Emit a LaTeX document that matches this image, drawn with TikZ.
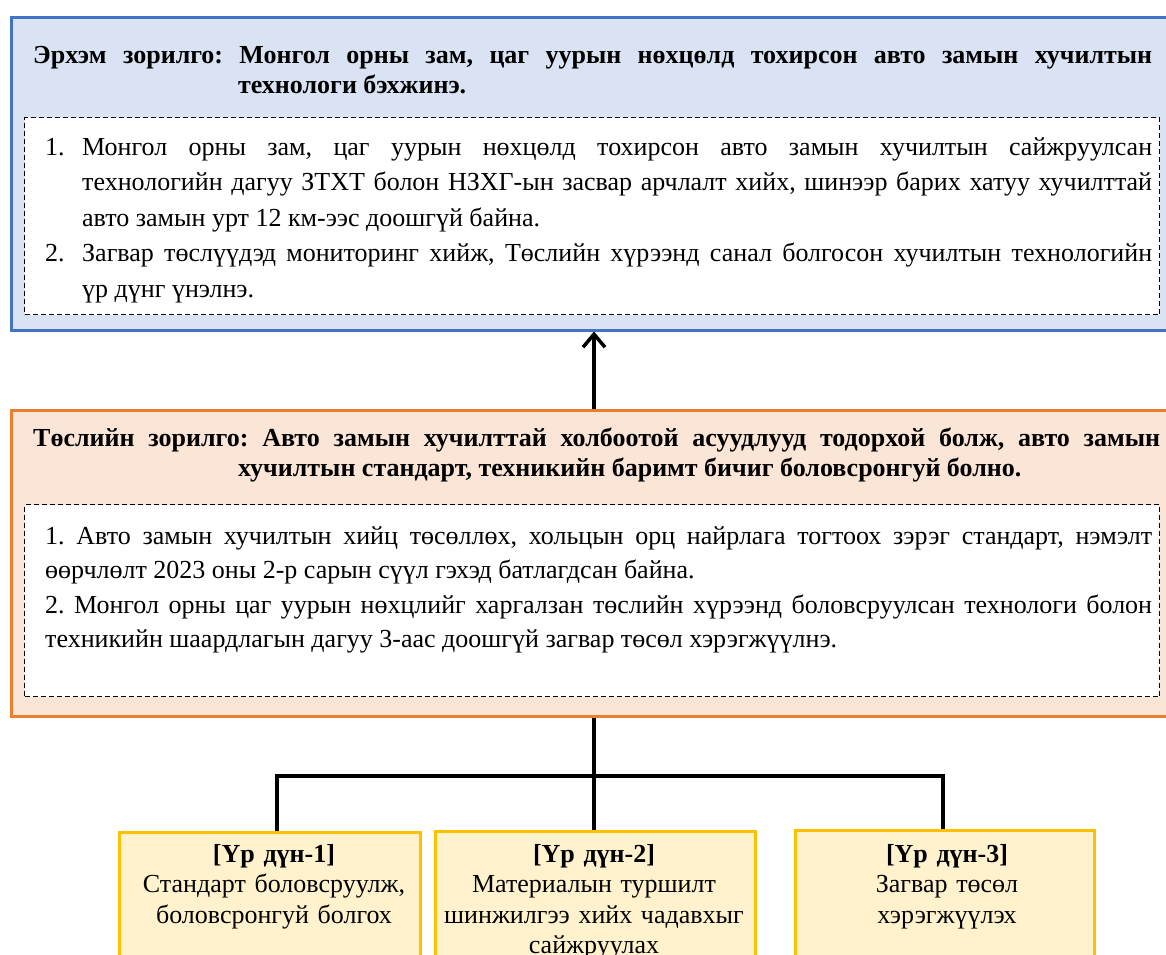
\documentclass[tikz,border=0pt]{standalone}
\usepackage{fontspec}
\setmainfont{Liberation Serif}
\usetikzlibrary{arrows.meta}
\frenchspacing

\definecolor{goalblue}{HTML}{4472C4}
\definecolor{goalfill}{HTML}{DAE3F3}
\definecolor{projorange}{HTML}{ED7D31}
\definecolor{projfill}{HTML}{FBE5D6}
\definecolor{resgold}{HTML}{FFC000}
\definecolor{resfill}{HTML}{FFF2CC}

\tikzset{
  panel/.style={draw, line width=3pt, rectangle, inner sep=0pt, anchor=north west},
  goalpanel/.style={panel, draw=goalblue, fill=goalfill},
  projpanel/.style={panel, draw=projorange, fill=projfill},
  listframe/.style={draw=black, fill=white, line width=1.1pt, dash pattern=on 5pt off 3pt,
    rectangle, inner sep=0pt, anchor=north west},
  headtext/.style={anchor=base west, inner sep=0pt, align=justify,
    font=\bfseries\fontsize{26}{30}\selectfont},
  bodytext/.style={anchor=base west, inner sep=0pt, align=justify,
    font=\fontsize{26}{35.5}\selectfont},
  resultbox/.style={draw=resgold, fill=resfill, line width=3pt, rectangle, inner sep=0pt,
    anchor=north west, minimum height=160pt},
  resulttext/.style={anchor=base, inner sep=0pt, align=center, text width=300pt,
    font=\fontsize{26}{30.5}\selectfont},
  link/.style={draw=black, line width=3.5pt},
}

\begin{document}
\begin{tikzpicture}[x=1pt, y=-1pt]
\useasboundingbox (0,0) rectangle (1166,954);
\clip (0,0) rectangle (1166,954);

% ---------- overall goal ----------
\node[goalpanel, minimum width=1170pt, minimum height=313pt] (goal) at (9.5,15.5) {};
\node[headtext, text width=1119pt] (goalhead) at (33,63)
  {Эрхэм зорилго: Монгол орны зам, цаг уурын нөхцөлд тохирсон авто замын хучилтын\linebreak
   \hspace*{205pt}технологи бэхжинэ.};
\node[listframe, minimum width=1135pt, minimum height=197pt] (goallist) at (24,117) {};
\node[bodytext] (gn1) at (45,155) {1.};
\node[bodytext, text width=1070pt] (gi1) at (82,155)
  {Монгол орны зам, цаг уурын нөхцөлд тохирсон авто замын хучилтын сайжруулсан\linebreak
   технологийн дагуу ЗТХТ болон НЗХГ-ын засвар арчлалт хийх, шинээр барих хатуу хучилттай\linebreak
   авто замын урт 12 км-ээс доошгүй байна.};
\node[bodytext] (gn2) at (45,261.5) {2.};
\node[bodytext, text width=1070pt] (gi2) at (82,261.5)
  {Загвар төслүүдэд мониторинг хийж, Төслийн хүрээнд санал болгосон хучилтын технологийн\linebreak
   үр дүнг үнэлнэ.};

% ---------- project goal ----------
\node[projpanel, minimum width=1170pt, minimum height=306pt] (proj) at (9.5,408.5) {};
\node[headtext, text width=1127pt] (projhead) at (33,446)
  {Төслийн зорилго: Авто замын хучилттай холбоотой асуудлууд тодорхой болж, авто замын\linebreak
   \hspace*{205pt}хучилтын стандарт, техникийн баримт бичиг боловсронгуй болно.};
\node[listframe, minimum width=1135pt, minimum height=192pt] (projlist) at (24,504) {};
\node[bodytext, text width=1107pt, font=\fontsize{26}{34.5}\selectfont] (projitems) at (45,544)
  {1. Авто замын хучилтын хийц төсөллөх, хольцын орц найрлага тогтоох зэрэг стандарт, нэмэлт\linebreak
   өөрчлөлт 2023 оны 2-р сарын сүүл гэхэд батлагдсан байна.\par
   2. Монгол орны цаг уурын нөхцлийг харгалзан төслийн хүрээнд боловсруулсан технологи болон\linebreak
   техникийн шаардлагын дагуу 3-аас доошгүй загвар төсөл хэрэгжүүлнэ.};

% ---------- results ----------
\node[resultbox, minimum width=301pt] (r1) at (118,831) {};
\node[resultbox, minimum width=320pt] (r2) at (434,830) {};
\node[resultbox, minimum width=299pt] (r3) at (794,829) {};

\node[resulttext] (r1t) at (274,862)
  {\textbf{[Үр дүн-1]}\\Стандарт боловсруулж,\\боловсронгуй болгох};
\node[resulttext] (r2t) at (594,862)
  {\textbf{[Үр дүн-2]}\\Материалын туршилт\\шинжилгээ хийх чадавхыг\\сайжруулах};
\node[resulttext] (r3t) at (947,862)
  {\textbf{[Үр дүн-3]}\\Загвар төсөл\\хэрэгжүүлэх};

% ---------- connectors ----------
\coordinate (spine) at (594,0);
\coordinate (j1) at (277,776);
\coordinate (j3) at (943,776);

\draw[link, -{Straight Barb[length=13pt, width=22pt]}] (proj.north -| spine) -- (goal.south -| spine);
\draw[link] (proj.south -| spine) -- (r2.north -| spine);
\draw[link] (r1.north -| j1) -- (j1) -- (j3) -- (r3.north -| j3);
\end{tikzpicture}
\end{document}
